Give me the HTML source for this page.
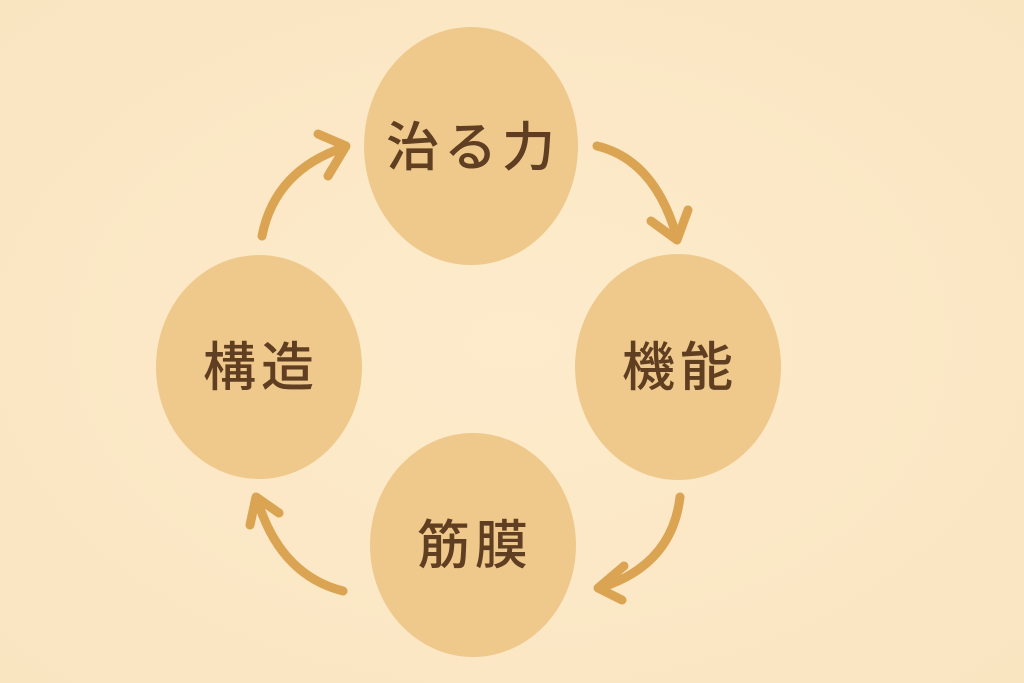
<!DOCTYPE html>
<html><head><meta charset="utf-8"><style>
html,body{margin:0;padding:0;width:1024px;height:683px;overflow:hidden;background:#fbe9c8;}
svg{display:block}
text{font-family:"Liberation Sans","Noto Sans CJK JP",sans-serif;font-weight:500;fill:#5f3e22;font-size:53px;letter-spacing:5px;text-anchor:middle;dominant-baseline:central}
</style></head><body>
<svg width="1024" height="683" viewBox="0 0 1024 683">
<defs><radialGradient id="bg" cx="50%" cy="50%" r="70%"><stop offset="0" stop-color="#fdebcb"/><stop offset="1" stop-color="#fae5c1"/></radialGradient></defs>
<rect width="1024" height="683" fill="url(#bg)"/>
<g fill="#efc98c">
<ellipse cx="471" cy="146" rx="107" ry="119"/>
<ellipse cx="678" cy="367" rx="103" ry="113"/>
<ellipse cx="473" cy="545" rx="103" ry="112"/>
<ellipse cx="259" cy="367" rx="103" ry="112"/>
</g>
<text x="473" y="148">治る力</text>
<text x="680" y="368">機能</text>
<text x="475" y="546">筋膜</text>
<text x="261" y="368">構造</text>
<g fill="none" stroke="#dba452" stroke-width="9" stroke-linecap="round" stroke-linejoin="round">
<path d="M597 146 Q655 160 677 238"/><path d="M651 221 L677 240 L688 210"/>
<path d="M680 497 Q672 565 600 588"/><path d="M624 566 L598 588 L622 600"/>
<path d="M343 591 Q280 575 257 499"/><path d="M250 525 L256 497 L279 513"/>
<path d="M262 236 Q275 170 345 147"/><path d="M318 134 L346 146 L328 176"/>
</g>
</svg>
</body></html>
